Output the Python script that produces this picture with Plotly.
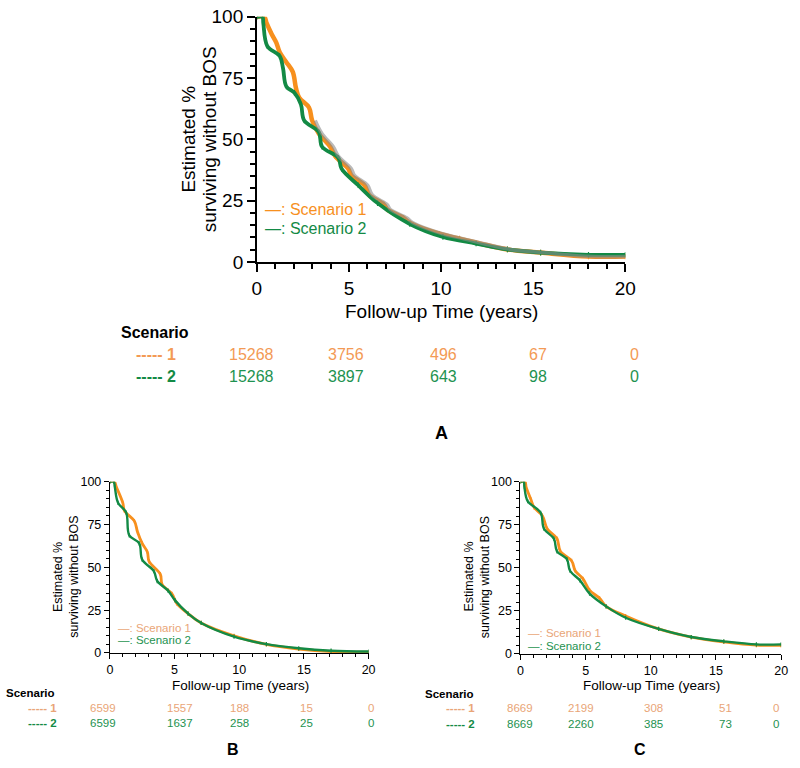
import plotly.graph_objects as go

# ---------------- data ----------------
# Panel A
a_s1_t = [0, 0.4, 0.53, 0.8, 1.06, 1.24, 1.6, 1.95, 2.12, 2.3, 2.83, 3.0, 3.36, 3.98, 4.25, 4.96, 5.13, 5.84, 6.1, 6.9, 7.08, 7.96, 8.3, 9.9, 11.0, 13.6, 15.4, 18.0, 20.0]
a_s1_s = [100, 100, 97.4, 93, 89.4, 85.5, 81.5, 77.5, 71, 67, 63, 57.7, 52.4, 47, 43.2, 38, 35.3, 31.3, 27.3, 23.4, 21.4, 18, 16, 11.5, 9.5, 5.1, 3.8, 2.2, 2.2]
a_s2_t = [0, 0.3, 0.35, 0.57, 1.24, 1.42, 1.6, 2.04, 2.39, 2.57, 3.36, 3.54, 4.42, 4.6, 5.5, 6.55, 8.3, 10.1, 11.9, 13.6, 15.4, 18.0, 20.0]
a_s2_s = [100, 100, 97.4, 88, 84, 79, 71.6, 69, 64.3, 57.7, 53, 47, 42.5, 38, 31.3, 24, 15.5, 10.2, 7.5, 5.1, 3.8, 2.9, 2.9]
a_s1_risk = [15268, 3756, 496, 67, 0]
a_s2_risk = [15268, 3897, 643, 98, 0]

# Panel B
b_s1_t = [0, 0.35, 0.5, 1.0, 1.13, 1.9, 2.14, 2.5, 2.9, 3.03, 3.9, 4.04, 4.8, 5.17, 6.05, 7.06, 9.6, 12.1, 14.6, 17.1, 20.0]
b_s1_s = [100, 100, 97, 87.7, 83, 77, 70.6, 64, 59, 53.5, 46, 40, 34.5, 29, 23, 17.5, 10, 5, 2.3, 0.8, 0.4]
b_s2_t = [0, 0.3, 0.38, 0.63, 1.26, 1.5, 2.27, 2.5, 3.4, 3.66, 4.5, 5.04, 6.05, 7.06, 9.6, 12.1, 14.6, 17.1, 20.0]
b_s2_s = [100, 100, 97, 87.7, 82, 68.7, 64, 54.5, 47.8, 42, 36.4, 30.7, 23, 17.5, 9.5, 5.1, 2.7, 1.3, 0.8]
b_s1_risk = [6599, 1557, 188, 15, 0]
b_s2_risk = [6599, 1637, 258, 25, 0]

# Panel C
c_s1_t = [0, 0.35, 0.43, 0.8, 1.05, 1.68, 2.05, 2.8, 3.06, 3.93, 4.2, 4.8, 5.3, 6.07, 6.57, 8.07, 10.6, 13.1, 15.6, 18.1, 20.0]
c_s1_s = [100, 100, 97, 89.7, 85, 80.3, 72.7, 67, 59.6, 54, 48.3, 43.6, 37, 32.3, 27.6, 22, 14.5, 9.8, 7, 5.1, 5]
c_s2_t = [0, 0.25, 0.3, 0.55, 1.55, 1.8, 2.56, 2.8, 3.56, 3.8, 4.56, 5.3, 6.57, 8.07, 10.6, 13.1, 15.6, 18.1, 20.0]
c_s2_s = [100, 100, 97, 88.7, 82, 72.7, 67, 59.6, 55, 48.3, 42.7, 35, 27.6, 21, 14.5, 9.8, 7.3, 5.5, 5.5]
c_s1_risk = [8669, 2199, 308, 51, 0]
c_s2_risk = [8669, 2260, 385, 73, 0]

scenario_labels = ["1", "2"]

# ---------------- styles ----------------
ORANGE = "#F7901E"
GREEN = "#138A45"
ORANGE_TXT_A = "#F39A55"
ORANGE_TXT_S = "#E9A577"
GREEN_TXT = "#1E9250"
FONT = "Liberation Sans, Arial, sans-serif"
W, H = 800, 768


def px(x):
    return x / W


def py(y):
    return 1 - y / H


fig = go.Figure()

panels = [
    dict(ax="", t1=a_s1_t, s1=a_s1_s, t2=a_s2_t, s2=a_s2_s,
         xd=[px(257), px(633)], yd=[py(259), py(7)], tickf=19, lw=4.5, mk=4, alw=1.6, tl=8, mtl=5, shadow=True),
    dict(ax="2", t1=b_s1_t, s1=b_s1_s, t2=b_s2_t, s2=b_s2_s,
         xd=[px(107), px(371)], yd=[py(661), py(485)], tickf=12.5, lw=2.8, mk=3, alw=1.1, tl=5, mtl=3, shadow=False),
    dict(ax="3", t1=c_s1_t, s1=c_s1_s, t2=c_s2_t, s2=c_s2_s,
         xd=[px(526), px(792)], yd=[py(662), py(485)], tickf=12.5, lw=2.8, mk=3, alw=1.1, tl=5, mtl=3, shadow=False),
]

for p in panels:
    xa = "x" + p["ax"]
    ya = "y" + p["ax"]
    if p["shadow"]:
        # grey shadow visible behind the middle part of the scenario-1 curve
        fig.add_trace(go.Scatter(x=p["t1"][11:], y=p["s1"][11:], mode="lines", xaxis="x4", yaxis=ya,
                                 line=dict(color="#8C8C8C", width=p["lw"] - 1, shape="spline", smoothing=1.0),
                                 opacity=0.6, hoverinfo="skip", showlegend=False))
    fig.add_trace(go.Scatter(x=p["t1"], y=p["s1"], mode="lines+markers", xaxis=xa, yaxis=ya,
                             line=dict(color=ORANGE, width=p["lw"], shape="spline", smoothing=1.0),
                             marker=dict(symbol="line-ns-open", size=p["mk"], color=ORANGE,
                                         line=dict(color=ORANGE, width=1.2)),
                             name="Scenario 1", showlegend=False))
    fig.add_trace(go.Scatter(x=p["t2"], y=p["s2"], mode="lines+markers", xaxis=xa, yaxis=ya,
                             line=dict(color=GREEN, width=p["lw"] * 0.85, shape="spline", smoothing=1.0),
                             marker=dict(symbol="line-ns-open", size=p["mk"], color=GREEN,
                                         line=dict(color=GREEN, width=1.2)),
                             name="Scenario 2", showlegend=False))

layout = dict(
    width=W, height=H, margin=dict(l=0, r=0, t=0, b=0),
    paper_bgcolor="white", plot_bgcolor="white",
    font=dict(family=FONT, color="black"),
    showlegend=False,
)
for p in panels:
    key = p["ax"]
    common = dict(showgrid=False, zeroline=False, showline=True, linecolor="black", linewidth=p["alw"],
                  ticks="outside", ticklen=p["tl"], tickwidth=p["alw"], tickcolor="black",
                  tickfont=dict(size=p["tickf"], family=FONT, color="black"), fixedrange=True)
    layout["xaxis" + key] = dict(domain=p["xd"], range=[0, 20], tickvals=[0, 5, 10, 15, 20],
                                 anchor="y" + key,
                                 minor=dict(dtick=1, ticks="outside", ticklen=p["mtl"], tickwidth=p["alw"], tickcolor="black"),
                                 **common)
    layout["yaxis" + key] = dict(domain=p["yd"], range=[0, 100], tickvals=[0, 25, 50, 75, 100],
                                 anchor="x" + key,
                                 minor=dict(dtick=5, ticks="outside", ticklen=p["mtl"], tickwidth=p["alw"], tickcolor="black"),
                                 **common)
layout["xaxis4"] = dict(domain=panels[0]["xd"], range=[-0.17, 19.83], overlaying="x", visible=False,
                        anchor="y")
fig.update_layout(**layout)

ann = []


def text(x, y, s, size, color="black", bold=False, xanchor="center", angle=0):
    if bold:
        s = "<b>" + s + "</b>"
    ann.append(dict(x=px(x), y=py(y), xref="paper", yref="paper", text=s, showarrow=False,
                    font=dict(size=size, color=color, family=FONT), xanchor=xanchor, yanchor="middle",
                    textangle=angle, borderpad=0))


# Panel A labels
text(187, 133, "Estimated %", 19, angle=-90)
text(209, 133, "surviving without BOS", 19, angle=-90)
text(445, 310, "Follow-up Time (years)", 19)
text(264, 205, "—: Scenario 1", 16, ORANGE, xanchor="left")
text(264, 225, "—: Scenario 2", 16, GREEN, xanchor="left")
text(153, 332, "Scenario", 16, bold=True)
text(176, 354, "----- " + scenario_labels[0], 16, ORANGE_TXT_A, bold=True, xanchor="right")
text(176, 377, "----- " + scenario_labels[1], 16, GREEN, bold=True, xanchor="right")
for xp, v1, v2 in zip([252, 348, 447, 544, 642], a_s1_risk, a_s2_risk):
    text(xp, 354, str(v1), 16, ORANGE_TXT_A)
    text(xp, 377, str(v2), 16, GREEN_TXT)
text(445, 435, "A", 18, bold=True)

# Panel B labels
text(54, 583, "Estimated %", 12.5, angle=-90)
text(70, 583, "surviving without BOS", 12.5, angle=-90)
text(240, 694, "Follow-up Time (years)", 13.5)
text(114, 635, "—: Scenario 1", 11.5, ORANGE_TXT_S, xanchor="left")
text(114, 648, "—: Scenario 2", 11.5, GREEN_TXT, xanchor="left")
text(0, 702, "Scenario", 11.5, bold=True, xanchor="left")
text(54, 718, "----- " + scenario_labels[0], 11.5, ORANGE_TXT_S, bold=True, xanchor="right")
text(54, 733, "----- " + scenario_labels[1], 11.5, GREEN, bold=True, xanchor="right")
for xp, v1, v2 in zip([100, 179, 239, 308, 373], b_s1_risk, b_s2_risk):
    text(xp, 718, str(v1), 11.5, ORANGE_TXT_S)
    text(xp, 733, str(v2), 11.5, GREEN_TXT)
text(233, 760, "B", 16, bold=True)

# Panel C labels
text(474, 583, "Estimated %", 12.5, angle=-90)
text(490, 583, "surviving without BOS", 12.5, angle=-90)
text(660, 694, "Follow-up Time (years)", 13.5)
text(533, 641, "—: Scenario 1", 11.5, ORANGE_TXT_S, xanchor="left")
text(533, 654, "—: Scenario 2", 11.5, GREEN_TXT, xanchor="left")
text(454, 703, "Scenario", 11.5, bold=True)
text(481, 718, "----- " + scenario_labels[0], 11.5, ORANGE_TXT_S, bold=True, xanchor="right")
text(481, 734, "----- " + scenario_labels[1], 11.5, GREEN, bold=True, xanchor="right")
for xp, v1, v2 in zip([526, 588, 662, 735, 787], c_s1_risk, c_s2_risk):
    text(xp, 718, str(v1), 11.5, ORANGE_TXT_S)
    text(xp, 734, str(v2), 11.5, GREEN_TXT)
text(648, 760, "C", 16, bold=True)

fig.update_layout(annotations=ann)
fig.write_html(
    "out.html",
    config={"displayModeBar": False},
    post_script="document.body.style.margin='0';document.body.style.padding='0';document.body.style.overflow='hidden';",
)
